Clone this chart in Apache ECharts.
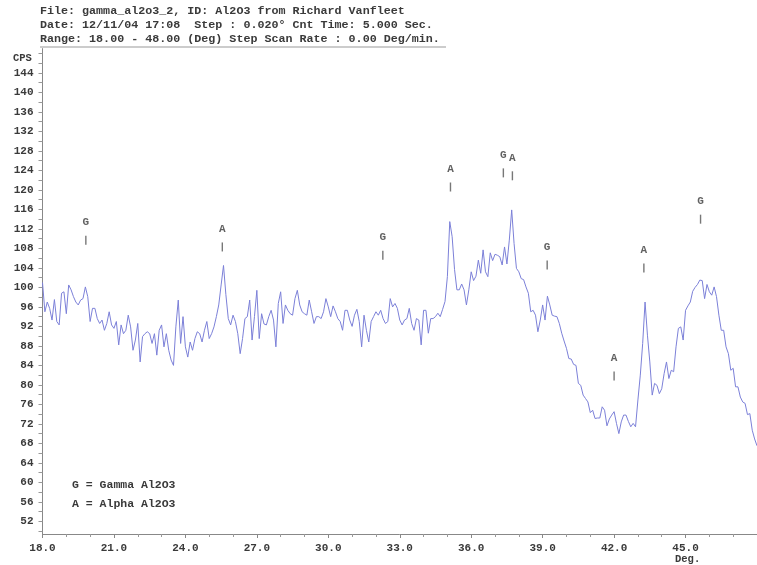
<!DOCTYPE html>
<html><head><meta charset="utf-8">
<script src="https://cdn.jsdelivr.net/npm/echarts@6/dist/echarts.min.js"></script>
<style>html,body{margin:0;padding:0;background:#fff}#c{width:757px;height:565px}</style>
</head><body><div id="c"></div>
<script>
// ---- header text ----
const headerLines = [
  'File: gamma_al2o3_2, ID: Al2O3 from Richard Vanfleet',
  'Date: 12/11/04 17:08  Step : 0.020\u00b0 Cnt Time: 5.000 Sec.',
  'Range: 18.00 - 48.00 (Deg) Step Scan Rate : 0.00 Deg/min.'
];
const yAxisName = 'CPS';
const xAxisName = 'Deg.';
const legendLines = ['G = Gamma Al2O3', 'A = Alpha Al2O3'];

// ---- scan: 2-theta start / step and counts per second ----
const startDeg = 18.0;
const stepDeg = 0.1;
const cps = [
 101.0,95.0,97.0,95.7,93.3,97.5,93.0,92.3,98.8,99.1,
 94.6,100.5,99.5,98.1,97.0,96.4,97.4,97.7,100.1,98.1,
 93.0,95.7,95.7,93.6,92.6,93.3,91.2,92.6,95.0,92.3,
 91.6,93.0,88.2,92.3,90.5,91.2,94.3,91.9,87.1,89.2,
 92.6,84.7,89.9,90.5,90.9,90.5,88.5,90.5,86.1,91.2,
 92.3,87.8,90.5,87.1,85.1,84.0,91.9,97.4,88.5,94.0,
 87.8,85.7,88.8,87.1,89.5,90.9,90.5,88.8,91.2,93.0,
 89.5,90.5,91.9,94.0,96.4,100.5,104.5,98.5,93.6,92.3,
 94.3,93.0,90.5,86.4,89.5,93.6,94.0,97.4,89.2,94.0,
 99.4,89.5,94.6,92.5,92.3,94.0,95.3,93.3,87.8,96.7,
 99.1,92.6,96.4,95.3,94.6,94.3,97.7,99.4,96.4,95.0,
 94.6,94.3,97.4,95.0,92.6,94.0,94.0,93.6,95.0,97.7,
 96.0,94.0,96.2,95.0,93.6,93.0,91.2,95.3,95.3,93.3,
 92.0,94.3,95.5,93.0,87.8,94.3,91.2,88.8,93.0,94.0,
 95.0,94.3,95.3,93.6,92.6,93.0,97.7,96.0,96.7,95.7,
 93.3,92.3,93.3,93.6,95.7,92.6,91.2,93.6,93.3,88.2,
 95.3,95.3,90.6,93.6,93.6,94.0,94.7,94.0,95.5,97.1,
 102.2,113.5,110.4,103.7,99.5,99.5,100.7,99.5,96.4,99.5,
 103.2,101.4,102.3,105.6,102.9,107.7,103.2,102.2,107.1,105.5,
 106.8,106.6,106.3,104.6,108.3,104.8,109.7,115.9,109.0,103.9,
 103.2,101.8,101.6,100.1,98.8,95.0,95.3,94.3,90.9,93.3,
 96.4,93.3,98.2,96.4,94.3,94.1,94.0,92.6,90.6,89.0,
 87.5,85.4,85.3,84.2,84.0,80.3,79.9,77.9,77.2,76.5,
 74.3,74.8,73.1,73.2,73.2,75.5,74.8,71.6,73.0,73.8,
 74.5,72.1,70.0,72.4,73.8,73.8,72.5,71.4,72.1,71.4,
 76.9,82.0,88.5,97.0,90.2,84.7,77.9,80.3,79.9,78.2,
 79.2,82.3,84.7,81.3,83.0,82.7,87.8,91.6,91.9,89.2,
 95.3,96.2,97.0,99.2,100.0,100.6,101.5,101.4,97.7,100.6,
 99.1,98.4,100.1,98.1,94.3,91.2,91.2,87.8,86.4,83.0,
 83.4,79.6,79.6,77.5,76.5,76.2,73.9,74.1,70.7,68.9,
 67.5
];

// ---- axis ticks ----
const yTickLabels = [52,56,60,64,68,72,76,80,84,88,92,96,100,104,108,112,116,120,124,128,132,136,140,144];
const yTickMarks = [50,52,54,56,58,60,62,64,66,68,70,72,74,76,78,80,82,84,86,88,90,92,94,96,98,100,102,104,106,108,110,112,114,116,118,120,122,124,126,128,130,132,134,136,138,140,142,144,146,148];
const xTickLabels = [18,21,24,27,30,33,36,39,42,45];

// ---- phase peak markers ----
const peakDeg   = [19.82, 25.55, 32.29, 35.13, 37.35, 37.73, 39.19, 42.0, 43.25, 45.63];
const peakPhase = ['G',   'A',   'G',   'A',   'G',   'A',   'G',   'A',  'A',   'G'];
const peakMarkCps = [109.7, 108.3, 106.6, 120.6, 123.5, 122.9, 104.6, 81.8, 104.0, 114.0];

const lineData = cps.map((v, i) => [+(startDeg + i * stepDeg).toFixed(2), v]);
const markData = peakDeg.map((d, i) => ({ value: [d, peakMarkCps[i]], name: peakPhase[i] }));

const FONT = 'Liberation Mono';
const TXT = '#3a3a3a';
const chart = echarts.init(document.getElementById('c'), null, { renderer: 'canvas' });
const gridLeft = 42.5, gridTop = 48.6, gridW = 717, gridH = 485.4;

chart.setOption({
  animation: false,
  backgroundColor: '#fff',
  grid: { left: gridLeft, top: gridTop, width: gridW, height: gridH, containLabel: false },
  xAxis: {
    type: 'value', min: 18, max: 48, interval: 3,
    axisLine: { show: true, lineStyle: { color: '#888', width: 1 } },
    axisTick: { show: true, length: 4, lineStyle: { color: '#888' } },
    minorTick: { show: true, splitNumber: 3, length: 3, lineStyle: { color: '#999' } },
    splitLine: { show: false },
    axisLabel: {
      showMaxLabel: false, margin: 9,
      formatter: v => v.toFixed(1),
      fontFamily: FONT, fontWeight: 'bold', fontSize: 11, color: TXT
    }
  },
  yAxis: {
    type: 'value', min: 49.4, max: 149,
    axisLine: { show: true, lineStyle: { color: '#888', width: 1 } },
    axisTick: { show: true, length: 4, customValues: yTickMarks, lineStyle: { color: '#999' } },
    splitLine: { show: false },
    axisLabel: {
      customValues: yTickLabels, margin: 9,
      fontFamily: FONT, fontWeight: 'bold', fontSize: 11, color: TXT
    }
  },
  series: [
    {
      type: 'line', data: lineData, showSymbol: false, smooth: false,
      lineStyle: { color: '#7c80d8', width: 1 }, clip: true, z: 2
    },
    {
      type: 'scatter', data: markData, symbol: 'rect', symbolSize: [1.4, 9],
      itemStyle: { color: '#555' }, z: 3,
      label: {
        show: true, position: 'top', distance: 8,
        formatter: p => p.name,
        fontFamily: FONT, fontWeight: 'bold', fontSize: 11, color: TXT
      }
    }
  ],
  graphic: [
    ...headerLines.map((t, i) => ({
      type: 'text', left: 40, top: 5 + i * 14,
      style: { text: t, font: 'bold 11.7px "' + FONT + '"', fill: TXT }
    })),
    { type: 'line', shape: { x1: 40, y1: 47, x2: 446, y2: 47 }, style: { stroke: '#999', lineWidth: 1 } },
    { type: 'text', left: 13, top: 53, style: { text: yAxisName, font: 'bold 10.5px "' + FONT + '"', fill: TXT } },
    { type: 'text', left: 675, top: 554, style: { text: xAxisName, font: 'bold 10.5px "' + FONT + '"', fill: TXT } },
    ...legendLines.map((t, i) => ({
      type: 'text', left: 72, top: 479 + i * 19,
      style: { text: t, font: 'bold 11.5px "' + FONT + '"', fill: TXT }
    }))
  ]
});
</script></body></html>
